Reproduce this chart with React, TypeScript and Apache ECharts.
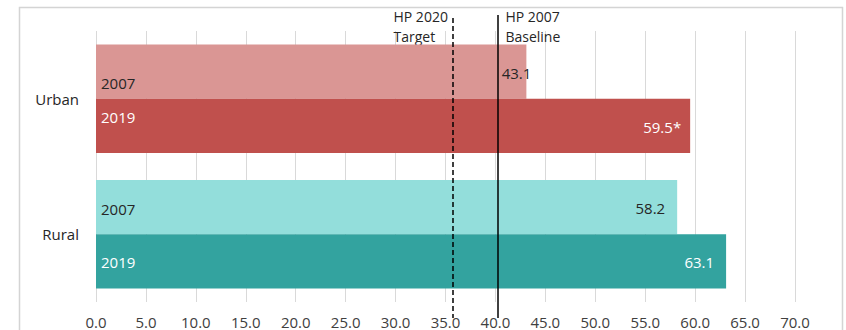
import React, { useEffect, useRef } from 'react';
import * as echarts from 'echarts';

// ---- data ----
const categories = ['Urban', 'Rural'];
const years = ['2007', '2019'];
const values2007 = [43.1, 58.2];
const values2019 = [59.5, 63.1];
const significant2019 = [true, false];
const targetValue = 35.7;
const baselineValue = 40.2;
const targetLabel = 'HP 2020\nTarget';
const baselineLabel = 'HP 2007\nBaseline';
const xMin = 0;
const xMax = 70;
const xStep = 5;

// ---- styles ----
const colors2007 = ['#DA9694', '#93DEDB'];
const colors2019 = ['#C0504D', '#33A39F'];
const nameLabelOffsets2007 = [[0, 11], [0, 2]];
const nameLabelOffsets2019 = [[0, -9], [0, 1]];
const valueLabelOffsets2007 = [[17, 1], [0, 1]];
const valueLabelOffsets2019 = [[3, 1], [0, 1]];
const FONT = "'Open Sans', sans-serif";

export default function App() {
  const ref = useRef<HTMLDivElement>(null);

  useEffect(() => {
    document.body.style.margin = '0';
    const chart = echarts.init(ref.current as HTMLDivElement, null, { renderer: 'svg' });

    const mainSeries = (
      name: string,
      values: number[],
      colors: string[],
      textColor: string,
      offsets: number[][],
      sig?: boolean[]
    ): any => ({
      type: 'bar',
      name,
      yAxisIndex: 0,
      barGap: '0%',
      barCategoryGap: '20%',
      data: values.map((v, i) => ({
        value: v,
        itemStyle: { color: colors[i] },
        label: { offset: offsets[i] },
      })),
      label: {
        show: true,
        position: 'insideRight',
        distance: 12,
        color: textColor,
        fontSize: 15,
        fontFamily: FONT,
        formatter: (p: any) =>
          Number(p.value).toFixed(1) + (sig && sig[p.dataIndex] ? '*' : ''),
      },
    });

    const nameSeries = (
      name: string,
      values: number[],
      textColor: string,
      offsets: number[][]
    ): any => ({
      type: 'bar',
      name: name + ' label',
      yAxisIndex: 1,
      barGap: '0%',
      barCategoryGap: '20%',
      silent: true,
      z: 5,
      data: values.map((v, i) => ({ value: v, label: { offset: offsets[i] } })),
      itemStyle: { color: 'rgba(0,0,0,0)' },
      label: {
        show: true,
        position: 'insideLeft',
        distance: 5,
        color: textColor,
        fontSize: 15,
        fontFamily: FONT,
        formatter: () => name,
      },
    });

    const s2007 = mainSeries(years[0], values2007, colors2007, '#262626', valueLabelOffsets2007);
    s2007.markLine = {
      silent: true,
      symbol: 'none',
      label: { show: false },
      data: [
        [
          { xAxis: targetValue, y: 18, lineStyle: { type: [5, 3], color: '#000', width: 1.5 } },
          { xAxis: targetValue, y: 318 },
        ],
        [
          { xAxis: baselineValue, y: 15, lineStyle: { type: 'solid', color: '#000', width: 1.5 } },
          { xAxis: baselineValue, y: 318 },
        ],
      ],
    };

    const option: any = {
      animation: false,
      grid: { left: 96, right: 51, top: 31, bottom: 28, containLabel: false },
      xAxis: {
        type: 'value',
        min: xMin,
        max: xMax,
        interval: xStep,
        axisLine: { show: false },
        axisTick: { show: false },
        splitLine: { lineStyle: { color: '#D9D9D9', width: 1 } },
        axisLabel: {
          formatter: (v: number) => v.toFixed(1),
          color: '#404040',
          fontSize: 15,
          lineHeight: 15,
          fontFamily: FONT,
          margin: 12,
        },
      },
      yAxis: [
        {
          type: 'category',
          data: categories,
          inverse: true,
          axisLine: { show: false },
          axisTick: { show: false },
          splitLine: { show: false },
          axisLabel: { color: '#262626', fontSize: 15, fontFamily: FONT, margin: 17 },
        },
        { type: 'category', data: categories, inverse: true, show: false },
      ],
      series: [
        s2007,
        mainSeries(years[1], values2019, colors2019, '#FFFFFF', valueLabelOffsets2019, significant2019),
        nameSeries(years[0], values2007, '#262626', nameLabelOffsets2007),
        nameSeries(years[1], values2019, '#FFFFFF', nameLabelOffsets2019),
      ],
    };
    chart.setOption(option);

    const tx = chart.convertToPixel({ xAxisIndex: 0 }, targetValue) as number;
    const bx = chart.convertToPixel({ xAxisIndex: 0 }, baselineValue) as number;
    chart.setOption({
      graphic: [
        {
          type: 'rect',
          silent: true,
          z: -10,
          shape: { x: 19.5, y: 7.5, width: 823, height: 400 },
          style: { fill: 'none', stroke: '#D4D4D4', lineWidth: 1.5 },
        },
        {
          type: 'text',
          silent: true,
          x: tx - 59,
          y: 6,
          style: {
            text: targetLabel,
            fill: '#262626',
            fontSize: 14,
            fontFamily: FONT,
            lineHeight: 20,
            align: 'left',
            verticalAlign: 'top',
          },
        },
        {
          type: 'text',
          silent: true,
          x: bx + 8,
          y: 6,
          style: {
            text: baselineLabel,
            fill: '#262626',
            fontSize: 14,
            fontFamily: FONT,
            lineHeight: 20,
            align: 'left',
            verticalAlign: 'top',
          },
        },
      ],
    });

    return () => chart.dispose();
  }, []);

  return <div ref={ref} style={{ width: 846, height: 330 }} />;
}
